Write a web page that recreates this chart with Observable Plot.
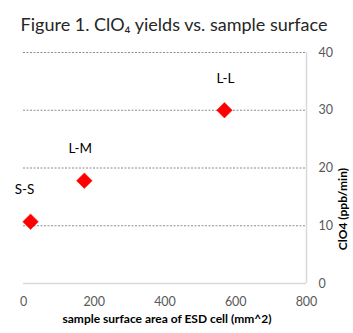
<!DOCTYPE html>
<html><head><meta charset="utf-8">
<script src="https://cdn.jsdelivr.net/npm/d3@7"></script>
<script src="https://cdn.jsdelivr.net/npm/@observablehq/plot@0.6"></script>
<style>body{margin:0;background:#fff;font-family:Lato,sans-serif}</style>
</head><body><div id="chart"></div>
<script>
const labels = ["S-S", "L-M", "L-L"];
const area = [20, 172, 568];
const yields = [10.7, 17.8, 30];
const xTicks = [0, 200, 400, 600, 800];
const yTicks = [0, 10, 20, 30, 40];
const gridTicks = [10, 20, 30, 40];
const data = labels.map((l, i) => ({label: l, x: area[i], y: yields[i]}));
const labelOffsets = [-6, -4, 1];

const chart = Plot.plot({
  width: 353, height: 333,
  marginTop: 52, marginBottom: 50, marginLeft: 23, marginRight: 47,
  style: {fontFamily: "Lato, sans-serif", background: "#fff"},
  x: {domain: [0, 800], ticks: xTicks},
  y: {domain: [0, 40], ticks: yTicks},
  marks: [
    Plot.ruleY(gridTicks, {stroke: "#8c8c8c", strokeDasharray: "2,1.5", strokeWidth: 1}),
    Plot.ruleY([0], {stroke: "#d9d9d9", strokeWidth: 1.5}),
    Plot.ruleX([800], {stroke: "#d9d9d9", strokeWidth: 1.5}),
    Plot.axisX({ticks: xTicks, tickSize: 0, tickPadding: 14, fontSize: 12.5, fill: "#595959", label: null}),
    Plot.axisY({anchor: "right", ticks: yTicks, tickSize: 0, tickPadding: 12, textAnchor: "start", fontSize: 12.5, fill: "#595959", label: null}),
    Plot.text(["sample surface area of ESD cell (mm^2)"], {frameAnchor: "bottom", dx: 2, dy: 39, fontSize: 12, fontWeight: "bold", fill: "#000"}),
    Plot.text(["ClO4 (ppb/min)"], {frameAnchor: "right", dx: 37, rotate: -90, fontSize: 12, fontWeight: "bold", fill: "#000"}),
    Plot.text(["Figure 1. ClO₄ yields vs. sample surface"], {frameAnchor: "top", dx: 9, dy: -34, fontSize: 18, fill: "#262626"}),
    Plot.dot(data, {x: "x", y: "y", symbol: "diamond2", r: 7, fill: "#ff0000", stroke: "#ff0000", strokeWidth: 0.5}),
    ...data.map((d, i) => Plot.text([d], {x: "x", y: "y", text: "label", dy: -32, dx: labelOffsets[i], fontSize: 13.5, fill: "#000"}))
  ]
});
document.getElementById("chart").appendChild(chart);
</script>
</body></html>
